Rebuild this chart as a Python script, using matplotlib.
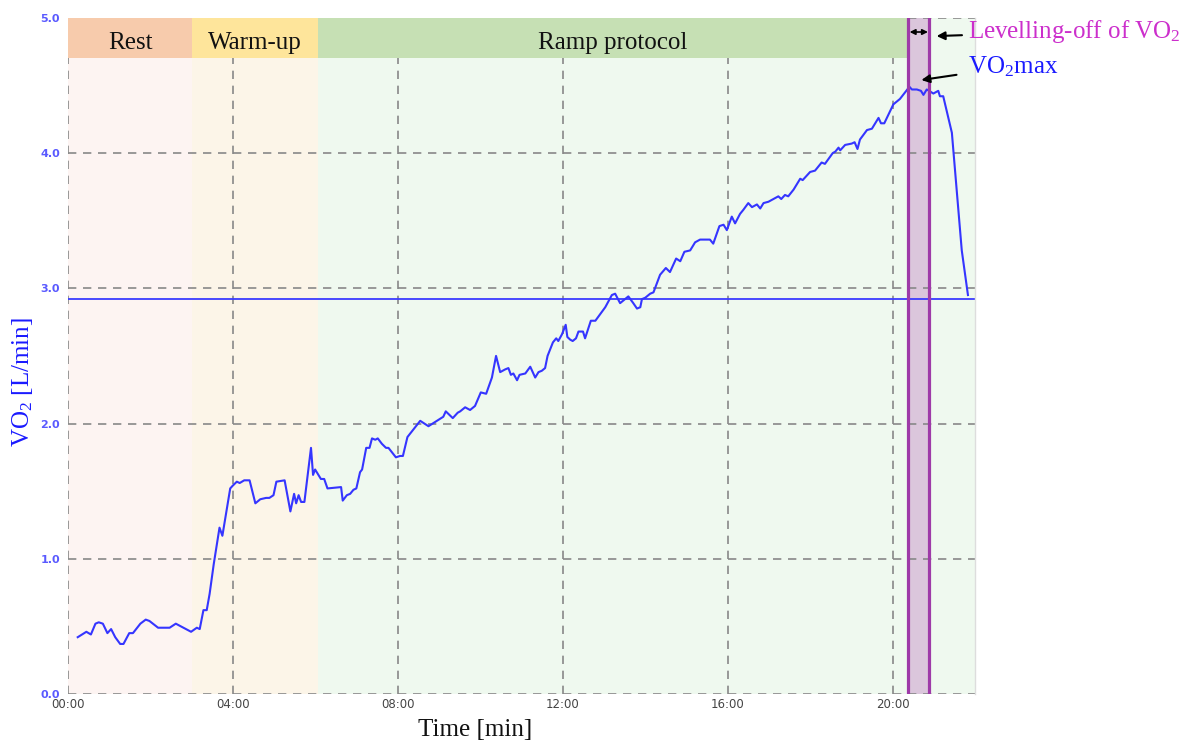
import matplotlib
matplotlib.use("Agg")
import matplotlib.pyplot as plt
from matplotlib.patches import Rectangle
from matplotlib.ticker import FixedLocator, FuncFormatter

plt.rcParams["mathtext.fontset"] = "custom"
plt.rcParams["mathtext.rm"] = "Liberation Serif"
plt.rcParams["mathtext.it"] = "Liberation Serif:italic"

# VO2 breath-by-breath trace (time in minutes, VO2 in L/min)
time_min = [0.23, 0.44, 0.55, 0.66, 0.74, 0.84, 0.95, 1.04, 1.14, 1.26, 1.34, 1.48, 1.57,
            1.75, 1.88, 1.97, 2.18, 2.46, 2.61, 2.98, 3.12, 3.19, 3.28, 3.36, 3.43, 3.53,
            3.67, 3.74, 3.93, 3.99, 4.09, 4.16, 4.27, 4.40, 4.54, 4.66, 4.80, 4.88, 4.98,
            5.05, 5.25, 5.39, 5.48, 5.53, 5.59, 5.65, 5.73, 5.89, 5.94, 5.99, 6.13, 6.21,
            6.29, 6.62, 6.66, 6.76, 6.84, 6.92, 6.99, 7.08, 7.13, 7.23, 7.31, 7.37, 7.45,
            7.51, 7.61, 7.71, 7.77, 7.95, 8.05, 8.12, 8.23, 8.54, 8.74, 9.10, 9.16, 9.33,
            9.45, 9.51, 9.63, 9.75, 9.87, 10.01, 10.14, 10.28, 10.38, 10.48, 10.60, 10.68,
            10.74, 10.80, 10.89, 10.95, 11.09, 11.21, 11.33, 11.41, 11.49, 11.57, 11.63,
            11.76, 11.84, 11.89, 11.98, 12.07, 12.11, 12.18, 12.24, 12.32, 12.38, 12.49,
            12.54, 12.68, 12.79, 12.91, 13.03, 13.19, 13.27, 13.39, 13.51, 13.59, 13.71,
            13.80, 13.88, 13.92, 14.00, 14.12, 14.20, 14.36, 14.50, 14.60, 14.75, 14.85,
            14.95, 15.09, 15.21, 15.33, 15.57, 15.65, 15.80, 15.90, 15.98, 16.10, 16.18,
            16.30, 16.38, 16.50, 16.59, 16.71, 16.79, 16.87, 16.99, 17.11, 17.23, 17.30,
            17.39, 17.47, 17.60, 17.76, 17.82, 18.00, 18.12, 18.20, 18.28, 18.36, 18.55,
            18.61, 18.69, 18.73, 18.85, 19.01, 19.08, 19.15, 19.21, 19.38, 19.50, 19.66,
            19.72, 19.80, 20.02, 20.18, 20.41, 20.47, 20.59, 20.69, 20.75, 20.83, 20.89,
            20.99, 21.05, 21.11, 21.15, 21.23, 21.44, 21.68, 21.83]
vo2 = [0.42, 0.46, 0.44, 0.52, 0.53, 0.52, 0.45, 0.48, 0.42, 0.37, 0.37, 0.45, 0.45,
       0.52, 0.55, 0.54, 0.49, 0.49, 0.52, 0.46, 0.49, 0.48, 0.62, 0.62, 0.74, 0.96,
       1.23, 1.17, 1.52, 1.54, 1.57, 1.56, 1.58, 1.58, 1.41, 1.44, 1.45, 1.45, 1.47,
       1.57, 1.58, 1.35, 1.48, 1.41, 1.47, 1.42, 1.42, 1.82, 1.62, 1.66, 1.59, 1.59,
       1.52, 1.53, 1.43, 1.47, 1.48, 1.51, 1.52, 1.64, 1.66, 1.82, 1.82, 1.89, 1.88,
       1.89, 1.85, 1.82, 1.82, 1.75, 1.76, 1.76, 1.90, 2.02, 1.98, 2.05, 2.09, 2.04,
       2.08, 2.09, 2.12, 2.10, 2.13, 2.23, 2.22, 2.34, 2.50, 2.38, 2.40, 2.41,
       2.36, 2.37, 2.32, 2.36, 2.37, 2.42, 2.34, 2.38, 2.39, 2.41, 2.50,
       2.60, 2.63, 2.61, 2.66, 2.73, 2.64, 2.62, 2.61, 2.63, 2.68, 2.68,
       2.63, 2.76, 2.76, 2.81, 2.86, 2.95, 2.96, 2.89, 2.92, 2.94, 2.89,
       2.85, 2.86, 2.92, 2.93, 2.96, 2.97, 3.10, 3.15, 3.12, 3.22, 3.20,
       3.27, 3.28, 3.34, 3.36, 3.36, 3.33, 3.46, 3.47, 3.43, 3.53, 3.48,
       3.55, 3.58, 3.63, 3.60, 3.62, 3.59, 3.63, 3.64, 3.66, 3.68, 3.66,
       3.69, 3.68, 3.73, 3.81, 3.80, 3.86, 3.87, 3.90, 3.93, 3.92, 4.00,
       4.01, 4.04, 4.02, 4.06, 4.07, 4.08, 4.03, 4.10, 4.17, 4.18, 4.26,
       4.22, 4.22, 4.36, 4.40, 4.49, 4.47, 4.47, 4.46, 4.43, 4.47, 4.46,
       4.44, 4.45, 4.46, 4.42, 4.42, 4.15, 3.28, 2.95]

# Test phases
phase_names = ["Rest", "Warm-up", "Ramp protocol"]
phase_bounds = [(0.0, 3.0), (3.0, 6.05), (6.05, 22.0)]
phase_header_end = [3.0, 6.05, 20.385]
plateau = (20.385, 20.89)
threshold_vo2 = 2.92

x_ticks = [0, 4, 8, 12, 16, 20]
y_ticks = [0.0, 1.0, 2.0, 3.0, 4.0, 5.0]

body_colors = ["#fdf4f2", "#fcf5e8", "#eff9ef"]
header_colors = ["#f7cbac", "#fee59b", "#c6e0b4"]
serif = ["Liberation Serif", "DejaVu Serif"]

fig = plt.figure(figsize=(11.91, 7.42), dpi=100)
ax = fig.add_axes([0.0573, 0.0647, 0.7613, 0.9113])
ax.set_xlim(0, 22)
ax.set_ylim(0, 5.0)

header_low = 4.7
for (x0, x1), hend, name, bc, hc in zip(phase_bounds, phase_header_end, phase_names,
                                         body_colors, header_colors):
    ax.axvspan(x0, x1, color=bc, zorder=0.1, lw=0)
    ax.add_patch(Rectangle((x0, header_low), hend - x0, 5.0 - header_low,
                           facecolor=hc, edgecolor="none", zorder=1.5))
    ax.text((x0 + hend) / 2, 4.815, name, ha="center", va="center",
            fontsize=18, family=serif, color="#111111", zorder=3)

# Plateau (levelling-off) band
ax.axvspan(plateau[0], plateau[1], facecolor="#dbc6dc", edgecolor="none", zorder=0.3)
for xp in plateau:
    ax.axvline(xp, color="#9e3aa8", lw=2.3, zorder=2.5)

ax.set_axisbelow(True)
ax.grid(True, color="#888888", linestyle=(0, (5, 4)), linewidth=1.2, zorder=0.5)

ax.axhline(threshold_vo2, color="#3b3bff", lw=1.3, zorder=2)
ax.plot(time_min, vo2, color="#3535ff", lw=1.5, zorder=2.2)

ax.xaxis.set_major_locator(FixedLocator(x_ticks))
ax.yaxis.set_major_locator(FixedLocator(y_ticks))
ax.xaxis.set_major_formatter(FuncFormatter(lambda v, p: f"{int(v):02d}:00"))
ax.yaxis.set_major_formatter(FuncFormatter(lambda v, p: f"{v:.1f}"))
ax.tick_params(axis="both", length=0)
ax.tick_params(axis="x", labelsize=8.5, labelcolor="#444444", pad=3)
ax.tick_params(axis="y", labelsize=8, labelcolor="#5a5aff", pad=6)
for lab in ax.get_yticklabels():
    lab.set_fontweight("bold")

for side in ("left", "top", "bottom"):
    ax.spines[side].set_visible(False)
ax.spines["right"].set_color("#dddddd")
ax.spines["right"].set_linewidth(1.0)

ax.set_xlabel("Time [min]", fontsize=18, family=serif, color="#111111")
ax.xaxis.label.set_va("center")
ax.xaxis.set_label_coords(0.449, -0.053)
ax.set_ylabel(r"VO$_\mathregular{2}$ [L/min]", fontsize=18, family=serif, color="#1a1aff")
ax.yaxis.label.set_va("center")
ax.yaxis.set_label_coords(-0.05, 0.462)

# Annotations
ax.annotate("", xy=(plateau[0] + 0.03, 4.895), xytext=(plateau[1] - 0.03, 4.895),
            arrowprops=dict(arrowstyle="<|-|>", color="black", lw=1.2,
                            mutation_scale=8, shrinkA=0, shrinkB=0),
            annotation_clip=False, zorder=4)
ax.annotate(r"Levelling-off of VO$_\mathregular{2}$", xy=(21.07, 4.865), xytext=(21.82, 4.90),
            fontsize=18, family=serif, color="#cc2fcc", ha="left", va="center",
            arrowprops=dict(arrowstyle="-|>", color="black", lw=1.5, mutation_scale=12,
                            shrinkA=2, shrinkB=0),
            annotation_clip=False, zorder=4)
ax.annotate(r"VO$_\mathregular{2}$max", xy=(20.7, 4.54), xytext=(21.82, 4.64),
            fontsize=18, family=serif, color="#1a1aff", ha="left", va="center",
            arrowprops=dict(arrowstyle="-|>", color="black", lw=1.5, mutation_scale=12,
                            shrinkA=6, shrinkB=0),
            annotation_clip=False, zorder=4)

fig.savefig("out.png", dpi=100)
